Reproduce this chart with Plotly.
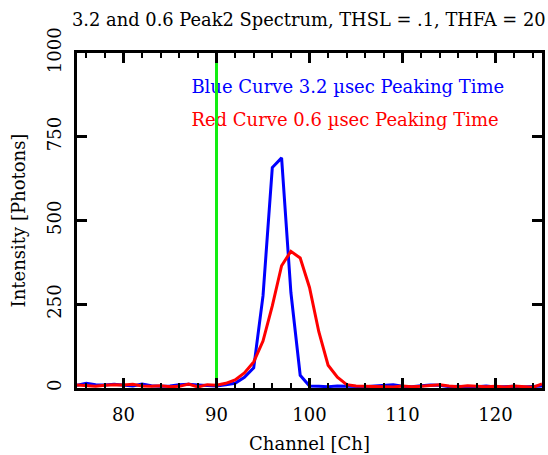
import plotly.graph_objects as go

# Spectrum data: counts per channel for two peaking times
channels = list(range(75, 126))
blue_counts = [8, 14, 10, 9, 11, 8, 6, 12, 7, 5, 6, 10, 11, 9, 7, 6, 10, 14, 32, 60,
               275, 658, 687, 285, 38, 6, 5, 4, 6, 5, 3, 4, 6, 8, 10, 5, 4, 7, 9, 8,
               4, 5, 3, 4, 6, 3, 4, 5, 3, 4, 6]
red_counts = [9, 6, 5, 8, 10, 9, 11, 6, 5, 7, 4, 5, 12, 3, 10, 8, 14, 24, 45, 78,
              140, 245, 365, 408, 388, 300, 168, 68, 32, 10, 6, 5, 4, 5, 3, 6, 4, 5, 8, 10,
              6, 4, 7, 5, 4, 5, 3, 6, 4, 2, 12]
threshold_channel = 90
y_max = 1000

blue_label = "Blue Curve 3.2 \u00b5sec Peaking Time"
red_label = "Red Curve 0.6 \u00b5sec Peaking Time"
title_text = "3.2 and 0.6 Peak2 Spectrum, THSL = .1, THFA = 20"

FONT = "DejaVu Serif"
FS = 18

fig = go.Figure()
fig.add_trace(go.Scatter(x=channels, y=blue_counts, mode="lines",
                         line=dict(color="#0000ff", width=3), showlegend=False))
fig.add_trace(go.Scatter(x=channels, y=red_counts, mode="lines",
                         line=dict(color="#ff0000", width=3), showlegend=False))

# Curve descriptions
fig.add_trace(go.Scatter(x=[87.3], y=[895], mode="text", text=[blue_label],
                         textposition="middle right",
                         textfont=dict(family=FONT, size=FS, color="#0000ff"),
                         showlegend=False))
fig.add_trace(go.Scatter(x=[87.3], y=[797], mode="text", text=[red_label],
                         textposition="middle right",
                         textfont=dict(family=FONT, size=FS, color="#ff0000"),
                         showlegend=False))

# Threshold marker
fig.add_trace(go.Scatter(x=[threshold_channel, threshold_channel], y=[0, y_max],
                         mode="lines", line=dict(color="#11ee11", width=3),
                         showlegend=False))

fig.update_layout(
    width=548, height=455,
    margin=dict(l=77, r=3, t=53, b=67),
    paper_bgcolor="white", plot_bgcolor="white",
    font=dict(family=FONT, size=FS, color="black"),
)
fig.add_annotation(text=title_text, xref="paper", yref="paper",
                   x=-7 / 468, y=1 + 33 / 335, xanchor="left", yanchor="middle",
                   showarrow=False, font=dict(family=FONT, size=17.85, color="black"))

fig.update_xaxes(
    range=[75, 125], dtick=10, tick0=80, showgrid=False, zeroline=False,
    showline=True, linecolor="black", linewidth=3, mirror="ticks",
    ticks="inside", ticklen=10, tickwidth=3, tickcolor="black",
    ticklabelstandoff=8,
    minor=dict(dtick=2, ticks="inside", ticklen=5, tickwidth=2, tickcolor="black", showgrid=False),
    title=dict(text="Channel [Ch]", standoff=14, font=dict(family=FONT, size=FS)),
    tickfont=dict(family=FONT, size=FS),
)
fig.update_yaxes(
    range=[0, y_max], dtick=250, showgrid=False, zeroline=False,
    showline=True, linecolor="black", linewidth=3, mirror="ticks",
    ticks="inside", ticklen=10, tickwidth=3, tickcolor="black",
    tickangle=-90, ticklabelstandoff=6,
    title=dict(text="Intensity [Photons]", standoff=14, font=dict(family=FONT, size=FS)),
    tickfont=dict(family=FONT, size=FS),
)

fig.write_html("out.html")
